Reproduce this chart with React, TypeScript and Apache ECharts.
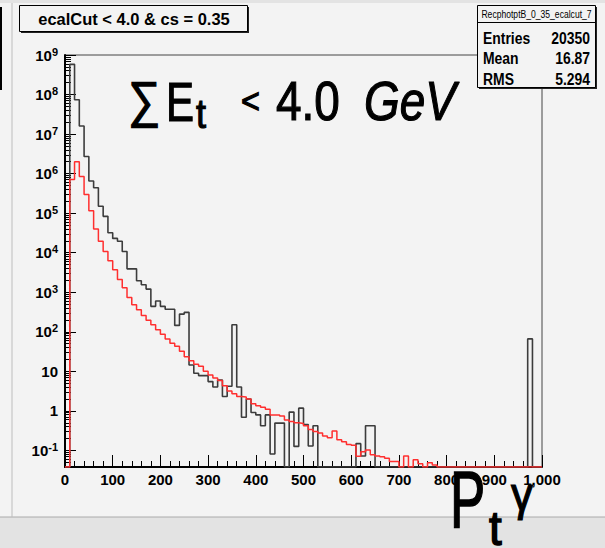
import React, { useEffect, useRef } from 'react';
import * as echarts from 'echarts';

// Histogram binning (GeV)
const BIN_WIDTH = 10;
const X_MIN = 0;
const X_MAX = 1000;
const X_TICK_STEP = 100;

// Log axis extent, in decades
const Y_LOG_MIN = -1.42;
const Y_LOG_MAX = 9;
const Y_DECADES = [-1, 0, 1, 2, 3, 4, 5, 6, 7, 8, 9];

// Bin contents, 100 bins of 10 GeV (0 = empty bin)
const blackCounts = [
  0, 5.8e8, 7.4e7, 1.6e7, 2.7e6, 6.5e5, 4.4e5, 1.5e5, 8.3e4, 3.2e4,
  2.3e4, 1.95e4, 1.07e4, 3900, 3900, 1950, 1550, 1200, 440, 600,
  440, 370, 370, 145, 280, 310, 14.5, 8.9, 7.8, 7.8,
  5.5, 4.0, 6.0, 2.3, 4.2, 150, 4.0, 0.69, 2.0, 0.91,
  0.79, 0.42, 0.79, 0.081, 0.49, 0.49, 0, 0.93, 0.126, 1.17,
  0.45, 0.129, 0.42, 0, 0, 0, 0, 0, 0, 0,
  0, 0.148, 0.072, 0.42, 0.42, 0, 0, 0, 0, 0,
  0, 0, 0, 0, 0, 0, 0, 0, 0, 0,
  0, 0, 0, 0, 0, 0, 0, 0, 0, 0,
  0, 0, 0, 0, 0, 0, 0, 66, 0, 0,
];

const redCounts = [
  0, 7.1e5, 2.0e6, 8.5e5, 2.95e5, 1.15e5, 4.0e4, 1.95e4, 1.07e4, 6300,
  3700, 2100, 1290, 740, 480, 360, 257, 195, 151, 112,
  87, 66, 51, 43, 32, 23.4, 18.6, 15.1, 13.5, 10.0,
  8.1, 6.8, 5.9, 4.3, 3.2, 2.7, 2.3, 2.24, 2.0, 1.51,
  1.35, 1.23, 1.1, 0.79, 0.79, 0.74, 0.59, 0.54, 0.5, 0.48,
  0.42, 0.34, 0.3, 0.275, 0.23, 0.21, 0.31, 0.186, 0.166, 0.141,
  0.135, 0.071, 0.093, 0.102, 0.078, 0.072, 0.069, 0.063, 0.052, 0.052,
  0, 0.072, 0, 0.058, 0.046, 0, 0.049, 0.043, 0, 0,
  0, 0, 0, 0, 0, 0, 0, 0, 0, 0,
  0, 0, 0, 0, 0, 0, 0, 0, 0, 0,
];

const TITLE = 'ecalCut < 4.0 & cs = 0.35';
const STATS_NAME = 'RecphotptB_0_35_ecalcut_7';
const STATS_ROWS: [string, string][] = [
  ['Entries', '20350'],
  ['Mean', '16.87'],
  ['RMS', '5.294'],
];

const LABEL_FONT = '"Liberation Sans", Arial, sans-serif';
const BIG_FONT = '"Liberation Sans", sans-serif';
const PAD = '#f3f3f3';

// Histogram outline: one point per bin low edge, closed at the upper edge
function stepPoints(counts: number[]): [number, number][] {
  const pts: [number, number][] = counts.map((c, i) => [
    X_MIN + i * BIN_WIDTH,
    c > 0 ? Math.max(Math.log10(c), Y_LOG_MIN) : Y_LOG_MIN,
  ]);
  pts.push([X_MAX, pts[pts.length - 1][1]]);
  return pts;
}

// Minor ticks of a log axis: k * 10^n, k = 2..9
function minorLogTicks(): number[] {
  const out: number[] = [];
  for (let n = Math.floor(Y_LOG_MIN); n < Y_LOG_MAX; n++) {
    for (let k = 2; k <= 9; k++) {
      const v = n + Math.log10(k);
      if (v > Y_LOG_MIN && v < Y_LOG_MAX) out.push(v);
    }
  }
  return out;
}

function decadeLabel(v: number): string {
  const n = Math.round(v);
  if (n === 0) return '{b|1}';
  if (n === 1) return '{b|10}';
  return `{b|10}{s|${n}}`;
}

// Condensed text: regular font squeezed horizontally
function narrowText(
  x: number, y: number, text: string, fontSize: number, sx: number,
  opts: { align?: 'left' | 'center' | 'right'; bold?: boolean; italic?: boolean; z?: number; heavy?: number } = {},
) {
  return {
    type: 'text' as const,
    z: opts.z ?? 12,
    x, y, scaleX: sx,
    style: {
      text,
      fontSize,
      fontWeight: opts.bold ? ('bold' as const) : ('normal' as const),
      fontStyle: opts.italic ? ('italic' as const) : ('normal' as const),
      fontFamily: BIG_FONT,
      fill: '#000',
      stroke: opts.heavy ? '#000' : undefined,
      lineWidth: opts.heavy ?? 0,
      align: opts.align ?? 'left',
      verticalAlign: 'middle' as const,
    },
  };
}

function buildOption(): echarts.EChartsOption {
  const yBase = {
    type: 'value' as const,
    min: Y_LOG_MIN,
    max: Y_LOG_MAX,
    position: 'left' as const,
    offset: 0,
    splitLine: { show: false },
  };
  return {
    animation: false,
    backgroundColor: PAD,
    grid: {
      left: 65,
      right: 63,
      top: 55,
      bottom: 81,
      show: true,
      borderColor: '#444',
      borderWidth: 1,
      backgroundColor: 'transparent',
    },
    xAxis: {
      type: 'value',
      min: X_MIN,
      max: X_MAX,
      interval: X_TICK_STEP,
      splitLine: { show: false },
      axisLine: { show: true, onZero: false, lineStyle: { color: '#000', width: 2 } },
      axisTick: { show: true, inside: true, length: 12, lineStyle: { color: '#000', width: 1 } },
      minorTick: { show: true, splitNumber: 5, length: 6, lineStyle: { color: '#000', width: 1 } },
      axisLabel: {
        color: '#000',
        fontSize: 15,
        fontWeight: 'bold',
        fontFamily: LABEL_FONT,
        margin: 5,
        showMinLabel: true,
        showMaxLabel: true,
      },
    },
    yAxis: [
      {
        ...yBase,
        axisLine: { show: true, onZero: false, lineStyle: { color: '#000', width: 2 } },
        axisTick: { show: true, inside: true, length: 11, customValues: Y_DECADES, lineStyle: { color: '#000', width: 1 } },
        axisLabel: {
          customValues: Y_DECADES,
          formatter: (v: number) => decadeLabel(v),
          margin: 7,
          rich: {
            b: { fontSize: 15, fontWeight: 'bold', fontFamily: LABEL_FONT, color: '#000', lineHeight: 18 },
            s: { fontSize: 11, fontWeight: 'bold', fontFamily: LABEL_FONT, color: '#000', lineHeight: 11, verticalAlign: 'top' },
          },
        },
      },
      {
        ...yBase,
        axisLine: { show: false },
        axisTick: { show: true, inside: true, length: 6, customValues: minorLogTicks(), lineStyle: { color: '#000', width: 1 } },
        axisLabel: { show: false },
      },
    ],
    series: [
      {
        type: 'line',
        name: 'all',
        data: stepPoints(blackCounts),
        step: 'end',
        showSymbol: false,
        symbol: 'none',
        clip: true,
        lineStyle: { color: '#3c3c3c', width: 1.6 },
        z: 3,
      },
      {
        type: 'line',
        name: 'fit',
        data: stepPoints(redCounts),
        step: 'end',
        showSymbol: false,
        symbol: 'none',
        clip: true,
        lineStyle: { color: '#ff2f2f', width: 1.5 },
        z: 4,
      },
    ],
    graphic: [
      // page texture strips and frame lines
      { type: 'rect', z: -1, shape: { x: 0, y: 517, width: 605, height: 31 }, style: { fill: '#e3e3e3' } },
      { type: 'rect', z: -1, shape: { x: 0, y: 0, width: 605, height: 3 }, style: { fill: '#e3e3e3' } },
      { type: 'line', z: 1, shape: { x1: 0, y1: 517, x2: 605, y2: 517 }, style: { stroke: '#aaaaaa', lineWidth: 1 } },
      { type: 'line', z: 1, shape: { x1: 12, y1: 3, x2: 12, y2: 517 }, style: { stroke: '#bdbdbd', lineWidth: 1 } },
      { type: 'rect', z: 1, shape: { x: 0, y: 7, width: 2, height: 83 }, style: { fill: '#000' } },

      // title box
      { type: 'rect', z: 10, shape: { x: 21, y: 7, width: 228, height: 26 }, style: { fill: '#222' } },
      { type: 'rect', z: 11, shape: { x: 19.5, y: 5.5, width: 228, height: 26 }, style: { fill: PAD, stroke: '#000', lineWidth: 1 } },
      narrowText(134, 19, TITLE, 17, 0.97, { align: 'center', bold: true }),

      // statistics box
      { type: 'rect', z: 10, shape: { x: 479, y: 7, width: 118, height: 82 }, style: { fill: '#222' } },
      { type: 'rect', z: 11, shape: { x: 477.5, y: 5.5, width: 118, height: 82 }, style: { fill: PAD, stroke: '#000', lineWidth: 1 } },
      { type: 'line', z: 12, shape: { x1: 477.5, y1: 22.5, x2: 595.5, y2: 22.5 }, style: { stroke: '#000', lineWidth: 1 } },
      narrowText(536.5, 14.5, STATS_NAME, 11, 0.78, { align: 'center' }),
      ...STATS_ROWS.flatMap(([k, v], i) => [
        narrowText(483, 37.5 + i * 20.8, k, 17, 0.82, { bold: true }),
        narrowText(590, 37.5 + i * 20.8, v, 17, 0.82, { bold: true, align: 'right' }),
      ]),

      // ΣEt < 4.0 GeV
      narrowText(128, 100, '∑', 50, 0.9, { z: 20, heavy: 1.2 }),
      narrowText(166, 101, 'E', 56, 0.75, { z: 20, heavy: 1.2 }),
      narrowText(196, 114, 't', 40, 0.9, { z: 20, heavy: 1.2 }),
      narrowText(241, 100, '<', 36, 0.9, { z: 20, heavy: 1.2 }),
      narrowText(276, 101, '4.0', 56, 0.82, { z: 20, heavy: 1.2 }),
      narrowText(364, 101, 'GeV', 56, 0.82, { italic: true, z: 20, heavy: 1.2 }),

      // Pt^γ axis title
      narrowText(450, 499, 'P', 80, 0.66, { z: 30, heavy: 1.5 }),
      narrowText(489, 529, 't', 48, 0.95, { z: 30, heavy: 1.5 }),
      narrowText(511, 494, 'γ', 46, 0.95, { z: 30, heavy: 1.2 }),
    ],
  };
}

export default function App() {
  const ref = useRef<HTMLDivElement>(null);
  useEffect(() => {
    if (!ref.current) return;
    const chart = echarts.init(ref.current, undefined, { renderer: 'svg' });
    chart.setOption(buildOption());
    return () => chart.dispose();
  }, []);
  return (
    <div
      ref={ref}
      style={{ position: 'absolute', left: 0, top: 0, width: 605, height: 548 }}
    />
  );
}
